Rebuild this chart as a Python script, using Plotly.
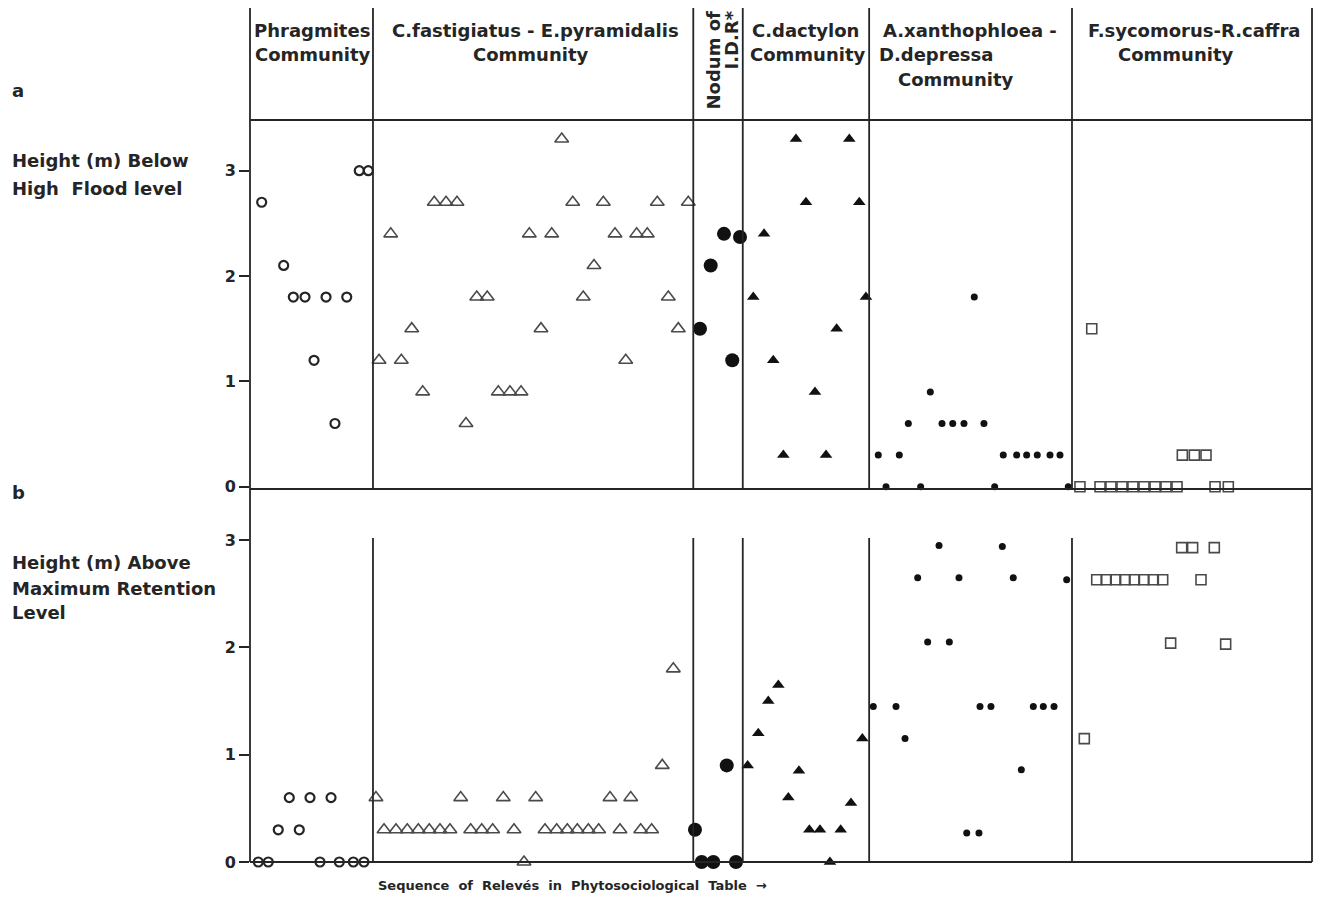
import plotly.graph_objects as go

# ---------------- data (x = position in relevé sequence, y = height in m) ----------------
# Panel a: height (m) below high flood level
phrag_a_x = [1.10, 3.17, 4.08, 5.18, 6.03, 7.16, 8.00, 9.11, 10.29, 11.14]
phrag_a_y = [2.7, 2.1, 1.8, 1.8, 1.2, 1.8, 0.6, 1.8, 3.0, 3.0]

cfast_a_x = [12.15, 13.25, 14.25, 15.23, 16.26, 17.35, 18.46, 19.49, 20.34, 21.35, 22.34,
             23.38, 24.48, 25.52, 26.30, 27.40, 28.41, 29.35, 30.39, 31.38, 32.39, 33.27,
             34.37, 35.38, 36.41, 37.41, 38.35, 39.39, 40.33, 41.27]
cfast_a_y = [1.2, 2.4, 1.2, 1.5, 0.9, 2.7, 2.7, 2.7, 0.6, 1.8, 1.8,
             0.9, 0.9, 0.9, 2.4, 1.5, 2.4, 3.3, 2.7, 1.8, 2.1, 2.7,
             2.4, 1.2, 2.4, 2.4, 2.7, 1.8, 1.5, 2.7]

nodum_a_x = [42.37, 43.38, 44.63, 45.41, 46.14]
nodum_a_y = [1.5, 2.1, 2.4, 1.2, 2.37]

cdac_a_x = [47.39, 48.40, 49.27, 50.22, 51.41, 52.35, 53.20, 54.24, 55.24, 56.43, 57.37, 58.00]
cdac_a_y = [1.8, 2.4, 1.2, 0.3, 3.3, 2.7, 0.9, 0.3, 1.5, 3.3, 2.7, 1.8]

axan_a_x = [59.16, 59.89, 61.14, 61.99, 63.15, 64.06, 65.16, 66.17, 67.23, 68.20, 69.11,
            70.12, 70.93, 72.19, 73.13, 74.13, 75.33, 76.27, 77.05]
axan_a_y = [0.3, 0.0, 0.3, 0.6, 0.0, 0.9, 0.6, 0.6, 0.6, 1.8, 0.6,
            0.0, 0.3, 0.3, 0.3, 0.3, 0.3, 0.3, 0.0]

fsyc_a_x = [78.15, 79.26, 80.04, 81.07, 82.11, 83.14, 84.18, 85.22, 86.25, 87.29,
            87.79, 88.92, 90.02, 90.87, 92.12]
fsyc_a_y = [0.0, 1.5, 0.0, 0.0, 0.0, 0.0, 0.0, 0.0, 0.0, 0.0,
            0.3, 0.3, 0.3, 0.0, 0.0]

# Panel b: height (m) above maximum retention level
phrag_b_x = [0.78, 1.72, 2.66, 3.70, 4.64, 5.65, 6.59, 7.63, 8.41, 9.73, 10.73]
phrag_b_y = [0.0, 0.0, 0.3, 0.6, 0.3, 0.6, 0.0, 0.6, 0.0, 0.0, 0.0]

cfast_b_x = [11.86, 12.62, 13.75, 14.81, 15.85, 16.88, 17.89, 18.83, 19.84, 20.78, 21.82,
             22.85, 23.85, 24.86, 25.80, 26.90, 27.78, 28.88, 29.88, 30.82, 31.86, 32.83,
             33.90, 34.84, 35.85, 36.79, 37.82, 38.82, 39.86]
cfast_b_y = [0.6, 0.3, 0.3, 0.3, 0.3, 0.3, 0.3, 0.3, 0.6, 0.3, 0.3,
             0.3, 0.6, 0.3, 0.0, 0.6, 0.3, 0.3, 0.3, 0.3, 0.3, 0.3,
             0.6, 0.3, 0.6, 0.3, 0.3, 0.9, 1.8]

nodum_b_x = [41.90, 42.53, 43.63, 44.89, 45.76]
nodum_b_y = [0.3, 0.0, 0.0, 0.9, 0.0]

cdac_b_x = [46.86, 47.86, 48.80, 49.75, 50.69, 51.69, 52.67, 53.67, 54.61, 55.62, 56.59, 57.66]
cdac_b_y = [0.9, 1.2, 1.5, 1.65, 0.6, 0.85, 0.3, 0.3, 0.0, 0.3, 0.55, 1.15]

axan_b_x = [58.69, 60.83, 61.68, 62.87, 63.81, 64.88, 65.85, 66.76, 67.49, 68.64, 68.74,
            69.77, 70.84, 71.87, 72.63, 73.76, 74.70, 75.71, 76.90]
axan_b_y = [1.45, 1.45, 1.15, 2.65, 2.05, 2.95, 2.05, 2.65, 0.27, 0.27, 1.45,
            1.45, 2.94, 2.65, 0.86, 1.45, 1.45, 1.45, 2.63]

fsyc_b_x = [78.56, 79.73, 80.62, 81.51, 82.39, 83.28, 84.17, 85.06, 85.94,
            86.69, 87.73, 88.76, 89.55, 90.80, 91.87]
fsyc_b_y = [1.15, 2.63, 2.63, 2.63, 2.63, 2.63, 2.63, 2.63, 2.63,
            2.04, 2.93, 2.93, 2.63, 2.93, 2.03]

# community boundaries along the relevé sequence
boundaries = [11.58, 41.74, 46.4, 58.3, 77.4]

# header lines: (x centre in sequence units, line number, text)
header_lines = [
    (5.84, 0, "Phragmites"), (5.84, 1, "Community"),
    (26.84, 0, "C.fastigiatus - E.pyramidalis"), (26.37, 1, "Community"),
    (52.26, 0, "C.dactylon"), (52.45, 1, "Community"),
    (67.8, 0, "A.xanthophloea -"), (64.6, 1, "D.depressa"), (66.4, 2, "Community"),
    (88.9, 0, "F.sycomorus-R.caffra"), (87.1, 1, "Community"),
]

# ---------------- styling ----------------
INK = "#252525"
GREY = "#4a4a4a"
FONT = "DejaVu Sans, Liberation Sans, Arial, sans-serif"

styles = {
    "phrag": dict(symbol="circle-open", size=9, color=INK, line=dict(width=2.2, color=INK)),
    "cfast": dict(symbol="triangle-up-open", size=12, color=GREY, line=dict(width=1.6, color=GREY)),
    "nodum": dict(symbol="circle", size=14, color="#111111"),
    "cdac": dict(symbol="triangle-up", size=11, color="#111111"),
    "axan": dict(symbol="circle", size=7, color="#111111"),
    "fsyc": dict(symbol="square-open", size=10, color=GREY, line=dict(width=1.6, color=GREY)),
}

fig = go.Figure()

panel_a = [("phrag", phrag_a_x, phrag_a_y), ("cfast", cfast_a_x, cfast_a_y),
           ("nodum", nodum_a_x, nodum_a_y), ("cdac", cdac_a_x, cdac_a_y),
           ("axan", axan_a_x, axan_a_y), ("fsyc", fsyc_a_x, fsyc_a_y)]
panel_b = [("phrag", phrag_b_x, phrag_b_y), ("cfast", cfast_b_x, cfast_b_y),
           ("nodum", nodum_b_x, nodum_b_y), ("cdac", cdac_b_x, cdac_b_y),
           ("axan", axan_b_x, axan_b_y), ("fsyc", fsyc_b_x, fsyc_b_y)]

for key, xs, ys in panel_a:
    fig.add_trace(go.Scatter(x=xs, y=ys, mode="markers", marker=styles[key],
                             xaxis="x2", yaxis="y2", cliponaxis=False,
                             showlegend=False, hoverinfo="x+y"))
for key, xs, ys in panel_b:
    fig.add_trace(go.Scatter(x=xs, y=ys, mode="markers", marker=styles[key],
                             xaxis="x", yaxis="y", cliponaxis=False,
                             showlegend=False, hoverinfo="x+y"))

# The page body has an 8px margin, so the figure is drawn 8px right/down.
OFF = 8
W, H = 1321, 890
ML = 250 - OFF
MR = W - (1312 - OFF)
MT = 120 - OFF
MB = H - (862 - OFF)
plot_h = H - MT - MB
plot_w = W - ML - MR


def py(page_y):
    """page pixel row -> paper y"""
    return (862 - page_y) / plot_h


def px(page_x):
    """page pixel column -> paper x"""
    return (page_x - 250) / plot_w


split = py(489)
top_paper = py(OFF)
b_div_top = py(538)

axis_common = dict(showgrid=False, zeroline=False, showline=False)
yaxis_common = dict(axis_common, tickvals=[0, 1, 2, 3],
                    ticktext=["<b>0</b>", "<b>1</b>", "<b>2</b>", "<b>3</b>"],
                    ticks="outside", ticklen=10, tickwidth=1.5, tickcolor=INK,
                    tickfont=dict(family=FONT, size=16, color=INK))

fig.update_layout(
    width=W, height=H,
    margin=dict(l=ML, r=MR, t=MT, b=MB),
    paper_bgcolor="white", plot_bgcolor="white",
    xaxis=dict(axis_common, domain=[0, 1], range=[0, 100], anchor="y",
               showticklabels=False, ticks=""),
    xaxis2=dict(axis_common, domain=[0, 1], range=[0, 100], anchor="y2", matches="x",
                showticklabels=False, ticks=""),
    yaxis=dict(yaxis_common, domain=[0, split], range=[0, 3.476], anchor="x"),
    yaxis2=dict(yaxis_common, domain=[split, 1], range=[-0.022, 3.481], anchor="x2"),
)

line = dict(color=INK, width=1.8)
shapes = [
    dict(type="line", xref="paper", yref="paper", x0=0, x1=0, y0=0, y1=top_paper, line=line),
    dict(type="line", xref="paper", yref="paper", x0=1, x1=1, y0=0, y1=top_paper, line=line),
    dict(type="line", xref="paper", yref="paper", x0=0, x1=1, y0=1, y1=1, line=line),
    dict(type="line", xref="paper", yref="paper", x0=0, x1=1, y0=split, y1=split, line=line),
    dict(type="line", xref="paper", yref="paper", x0=0, x1=1, y0=0, y1=0, line=line),
]
for b in boundaries:
    shapes.append(dict(type="line", xref="x", yref="paper", x0=b, x1=b,
                       y0=split, y1=top_paper, line=line))
    shapes.append(dict(type="line", xref="x", yref="paper", x0=b, x1=b,
                       y0=0, y1=b_div_top, line=line))
fig.update_layout(shapes=shapes)

annos = []
hfont = dict(family=FONT, size=18, color=INK)
line_y = [30, 55, 80]
for xc, ln, txt in header_lines:
    annos.append(dict(x=xc, xref="x", y=py(line_y[ln]), yref="paper", text="<b>" + txt + "</b>",
                      showarrow=False, xanchor="center", yanchor="middle", font=hfont))

nfont = dict(family=FONT, size=18, color=INK)
annos.append(dict(x=px(713), xref="paper", y=py(OFF + 1), yref="paper",
                  text="<b>Nodum of</b>", textangle=-90,
                  showarrow=False, xanchor="center", yanchor="top", font=nfont))
annos.append(dict(x=px(731), xref="paper", y=py(OFF + 1), yref="paper",
                  text="<b>I.D.R*</b>", textangle=-90,
                  showarrow=False, xanchor="center", yanchor="top", font=nfont))

lfont = dict(family=FONT, size=18, color=INK)
left_texts = [
    (90, "a"),
    (160, "Height (m) Below"),
    (188, "High  Flood level"),
    (492, "b"),
    (562, "Height (m) Above"),
    (588, "Maximum Retention"),
    (612, "Level"),
]
for ypx, txt in left_texts:
    annos.append(dict(x=px(10), xref="paper", y=py(ypx), yref="paper",
                      text="<b>" + txt + "</b>", showarrow=False, xanchor="left",
                      yanchor="middle", font=lfont))
annos.append(dict(x=px(572), xref="paper", y=py(886), yref="paper",
                  text="<b>Sequence\u00a0 of\u00a0 Relevés\u00a0 in\u00a0 Phytosociological\u00a0 Table\u00a0 \u2192</b>",
                  showarrow=False, xanchor="center", yanchor="middle",
                  font=dict(family=FONT, size=13, color=INK)))
fig.update_layout(annotations=annos)

fig.write_html("out.html")
